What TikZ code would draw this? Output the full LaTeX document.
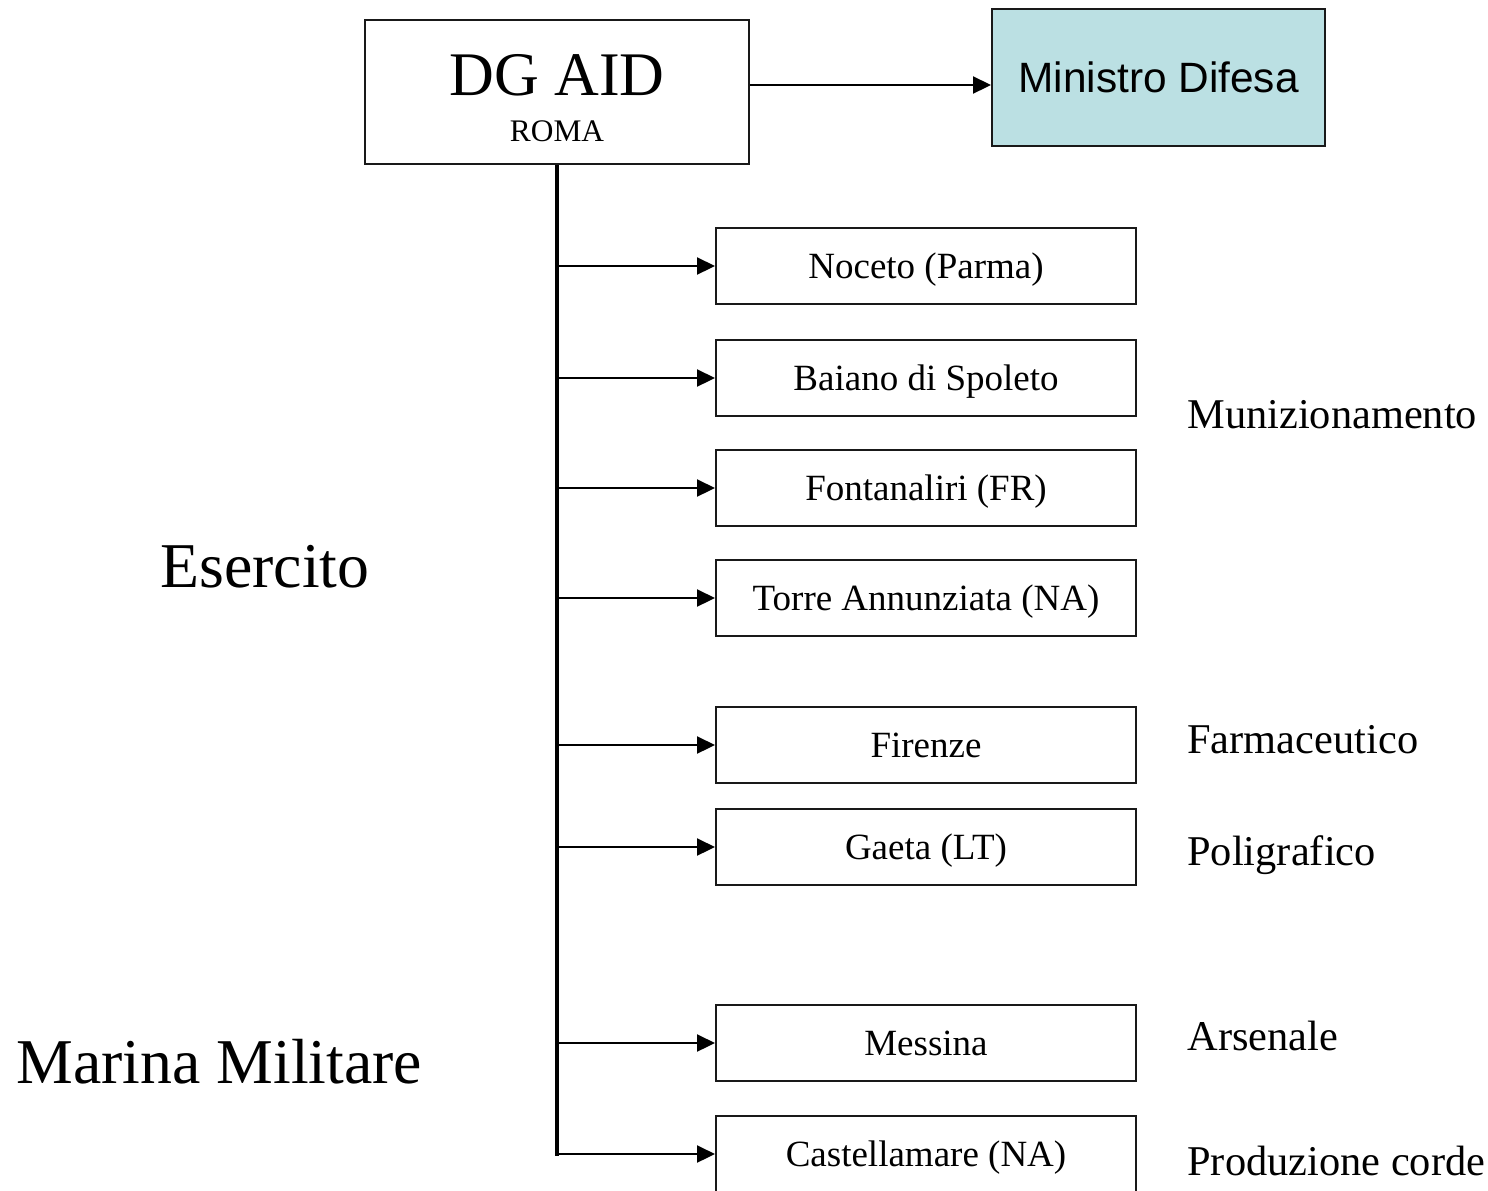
\documentclass[tikz,border=0pt]{standalone}
\usepackage{fontspec}
\setmainfont{Liberation Serif}
\newfontfamily\arialfont{Liberation Sans}
\usetikzlibrary{arrows.meta}
\definecolor{minfill}{RGB}{187,224,227}
\definecolor{edge}{RGB}{25,25,25}
\begin{document}
\begin{tikzpicture}[x=0.5pt,y=-0.5pt,
  sitebox/.style={draw=edge,line width=1pt,minimum width=210pt,minimum height=38pt,inner sep=0pt,
    font=\fontsize{18.5}{22}\selectfont,text height=12.2pt,text depth=0pt},
  branch/.style={line width=1.1pt,-{Triangle[length=9pt,width=8.5pt]}},
  trunk/.style={line width=1.6pt},
  sidelabel/.style={anchor=base west,inner sep=0pt,font=\fontsize{21.2}{24}\selectfont},
  biglabel/.style={anchor=base west,inner sep=0pt,font=\fontsize{31.9}{36}\selectfont}]
\useasboundingbox (0,0) rectangle (1488,1190);
% top boxes
\node[draw=edge,line width=1pt,minimum width=192pt,minimum height=72pt,inner sep=0pt] (dg) at (557,92) {};
\node[anchor=base,inner sep=0pt,font=\fontsize{31}{36}\selectfont] (dgt) at (557,95) {DG AID};
\node[anchor=base,inner sep=0pt,font=\fontsize{15.7}{18}\selectfont] (roma) at (557,141) {ROMA};
\node[draw=edge,fill=minfill,line width=1pt,minimum width=166.5pt,minimum height=68.5pt,inner sep=0pt,
  font=\arialfont\fontsize{21.2}{25}\selectfont,text height=15.2pt,text depth=0pt] (min) at (1158.5,77.5) {Ministro Difesa};
\coordinate (arrowy) at (0,85);
\draw[branch] (dg.east |- arrowy) -- (min.west |- arrowy);
% site boxes
\node[sitebox] (n1) at (926,266) {Noceto (Parma)};
\node[sitebox] (n2) at (926,378) {Baiano di Spoleto};
\node[sitebox] (n3) at (926,488) {Fontanaliri (FR)};
\node[sitebox] (n4) at (926,598) {Torre Annunziata (NA)};
\node[sitebox] (n5) at (926,745) {Firenze};
\node[sitebox] (n6) at (926,847) {Gaeta (LT)};
\node[sitebox] (n7) at (926,1043) {Messina};
\node[sitebox] (n8) at (926,1154) {Castellamare (NA)};
% trunk
\coordinate (tend) at (dg.south |- n8.west);
\draw[trunk] (dg.south) -- ([yshift=-0.8pt]tend);
\foreach \i in {1,...,7}{
  \draw[branch] (dg.south |- n\i.west) -- (n\i.west);
}
\draw[branch] ([xshift=-0.8pt]tend) -- (n8.west);
% side labels
\node[sidelabel] (l1) at (1187,428) {Munizionamento};
\node[sidelabel] (l2) at (1187,753) {Farmaceutico};
\node[sidelabel] (l3) at (1187,865) {Poligrafico};
\node[sidelabel] (l4) at (1187,1050) {Arsenale};
\node[sidelabel] (l5) at (1187,1175) {Produzione corde};
\node[biglabel] (es) at (160,587) {Esercito};
\node[biglabel] (mm) at (16,1083) {Marina Militare};
\end{tikzpicture}
\end{document}
